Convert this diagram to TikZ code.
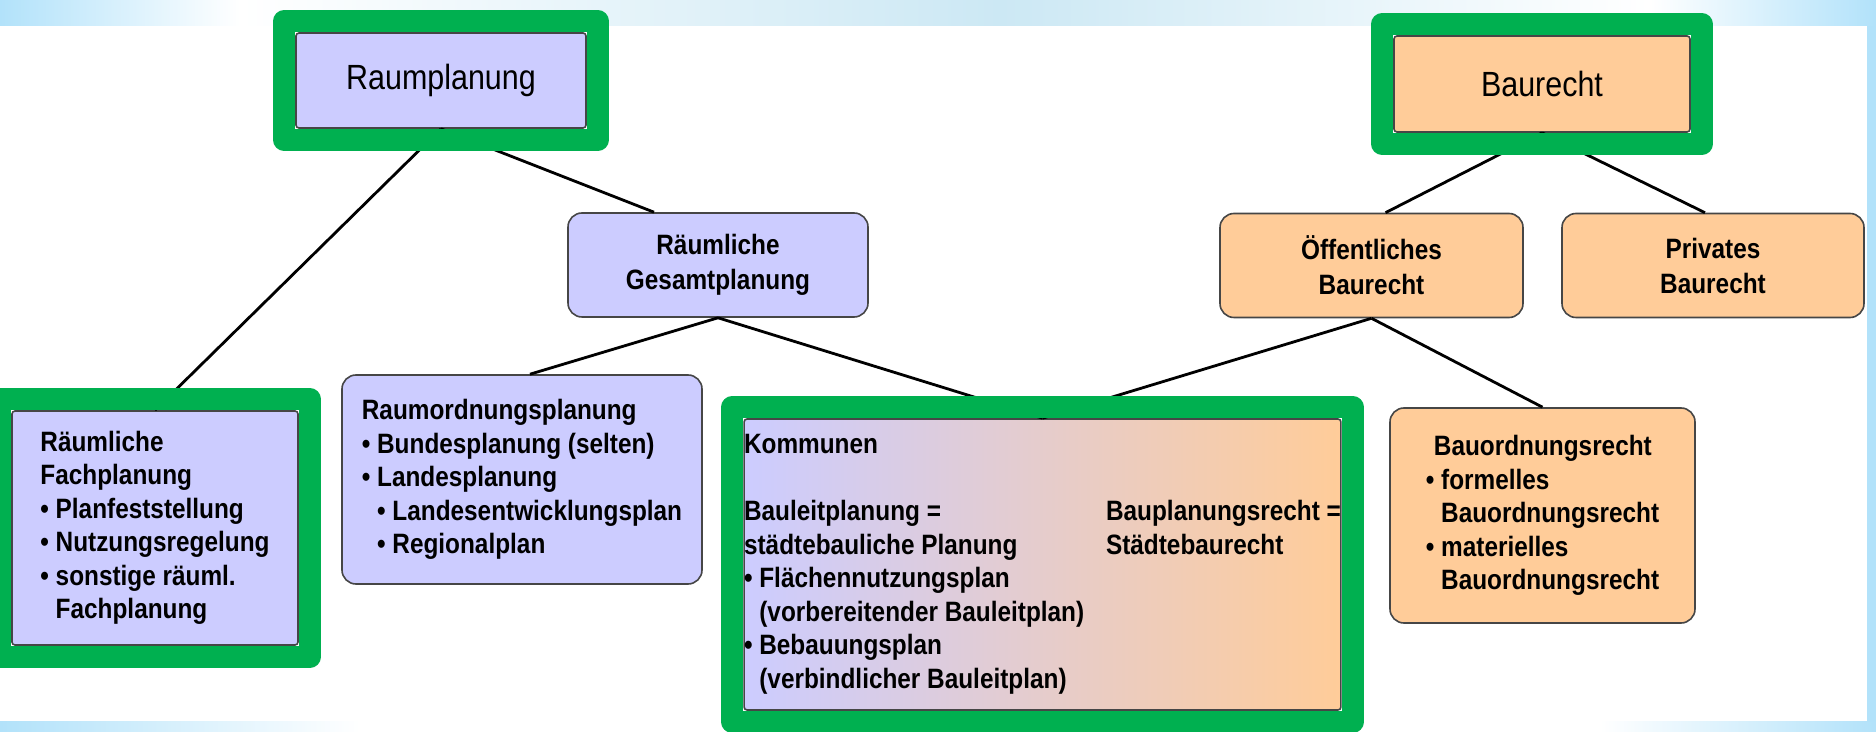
\documentclass[tikz,border=0pt]{standalone}
\usepackage{fontspec}
\setmainfont{Liberation Sans}[FakeStretch=0.87]
\usepackage{xcolor}
\usetikzlibrary{positioning,fit}

\definecolor{flieder}{RGB}{204,204,255}
\definecolor{apricot}{RGB}{255,204,153}
\definecolor{hlgreen}{RGB}{0,176,80}
\definecolor{rand}{RGB}{70,70,70}
\definecolor{bandblue}{RGB}{178,226,250}
\definecolor{midblue}{RGB}{204,232,244}

\newcommand{\bul}{\textbullet\ }
\newcommand{\gap}{\phantom{\textbullet\ }}

\begin{document}
\begin{tikzpicture}[x=0.5pt, y=-0.5pt,
    box/.style={draw=rand, line width=0.8pt, rounded corners=7pt, inner sep=0pt},
    raum/.style={box, fill=flieder},
    bau/.style={box, fill=apricot},
    titel/.style={rounded corners=1.5pt, font=\fontsize{17.5}{21}\selectfont},
    mittel/.style={font=\bfseries\fontsize{14}{17.5}\selectfont, align=center},
    klein/.style={font=\bfseries\fontsize{14}{16.75}\selectfont},
    greenframe/.style={draw=hlgreen, line width=11pt, line join=round, inner sep=5.5pt},
    conn/.style={line width=1.4pt}]
    \useasboundingbox (0,0) rectangle (1876,732);
    \fill[white] (0,0) rectangle (1876,732);

    % Rand oben, unten, rechts
    \fill[left color=bandblue, right color=white] (0,0) rectangle (240,26);
    \fill[left color=white, right color=midblue] (240,0) rectangle (1000,26);
    \fill[left color=midblue, right color=white] (1000,0) rectangle (1650,26);
    \fill[left color=white, right color=bandblue] (1650,0) rectangle (1876,26);
    \fill[left color=bandblue, right color=white] (0,722) rectangle (360,732);
    \fill[left color=white, right color=bandblue] (1600,722) rectangle (1876,732);
    \fill[bandblue] (1867,26) rectangle (1876,722);

    % Oberbegriffe
    \node[raum, titel, minimum width=145pt, minimum height=47.5pt] (rp) at (441,80.5) {Raumplanung};
    \node[bau, titel, minimum width=148pt, minimum height=48pt] (br) at (1542,84) {Baurecht};

    % zweite Ebene
    \node[raum, mittel, minimum width=150pt, minimum height=52pt] (gp) at (718,265) {Räumliche\\Gesamtplanung};
    \node[bau, mittel, minimum width=151.5pt, minimum height=52pt] (oe) at (1371.5,265.5) {Öffentliches\\Baurecht};
    \node[bau, mittel, minimum width=151pt, minimum height=52pt] (pr) at (1713,265.5) {Privates\\Baurecht};

    % dritte Ebene
    \node[raum, klein, rounded corners=1.5pt, align=left, minimum width=143pt, minimum height=117pt] (fp) at (155,528)
        {Räumliche\\Fachplanung\\\bul Planfeststellung\\\bul Nutzungsregelung\\\bul sonstige räuml.\\\gap Fachplanung};
    \node[raum, klein, align=left, minimum width=180pt, minimum height=104.5pt] (ro) at (522,479.5)
        {Raumordnungsplanung\\\bul Bundesplanung (selten)\\\bul Landesplanung\\\gap\bul Landesentwicklungsplan\\\gap\bul Regionalplan};
    \node[box, klein, rounded corners=1.5pt, left color=flieder, right color=apricot, minimum width=297.5pt, minimum height=145.5pt] (ko) at (1042.5,564.5)
        {\begin{tabular}{@{}p{181pt}@{}l@{}}
            Kommunen & \\
            & \\
            Bauleitplanung = & Bauplanungsrecht =\\
            städtebauliche Planung & Städtebaurecht\\
            \bul Flächennutzungsplan & \\
            \gap(vorbereitender Bauleitplan) & \\
            \bul Bebauungsplan & \\
            \gap(verbindlicher Bauleitplan) &
        \end{tabular}};
    \node[bau, klein, align=left, minimum width=152.5pt, minimum height=107.5pt] (bo) at (1542.5,515.5)
        {\hspace{4pt}Bauordnungsrecht\\\bul formelles\\\gap Bauordnungsrecht\\\bul materielles\\\gap Bauordnungsrecht};

    % Verbindungen
    \draw[conn] (rp.south) -- (fp.north);
    \draw[conn] (rp.south) -- ([xshift=-32pt]gp.north);
    \draw[conn] (gp.south) -- ([xshift=4pt]ro.north);
    \draw[conn] (gp.south) -- (ko.north);
    \draw[conn] (br.south) -- ([xshift=7pt]oe.north);
    \draw[conn] (br.south) -- ([xshift=-4pt]pr.north);
    \draw[conn] (oe.south) -- (ko.north);
    \draw[conn] (oe.south) -- (bo.north);

    % gruene Markierungen
    \node[greenframe, fit=(rp)] (rpf) {};
    \node[greenframe, fit=(br)] (brf) {};
    \node[greenframe, fit=(fp)] (fpf) {};
    \node[greenframe, fit=(ko)] (kof) {};
\end{tikzpicture}
\end{document}
